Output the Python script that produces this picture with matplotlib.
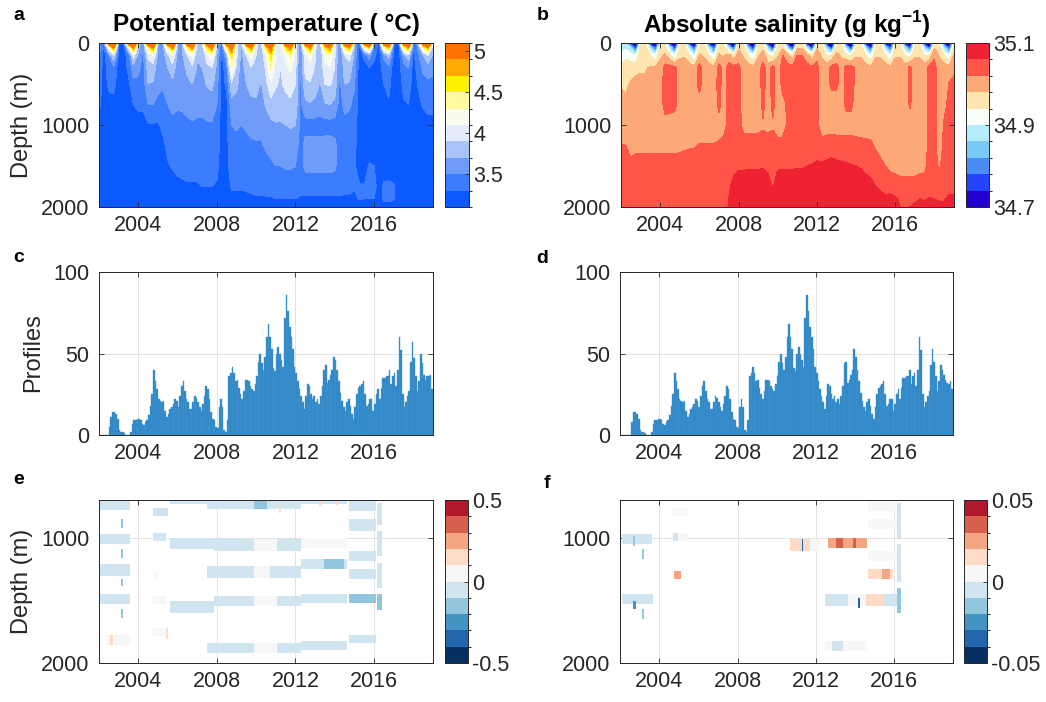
import numpy as np
import matplotlib
matplotlib.use('Agg')
import matplotlib.pyplot as plt
from matplotlib.colors import ListedColormap, BoundaryNorm
from matplotlib.cm import ScalarMappable

plt.rcParams['font.family'] = ['Liberation Sans', 'DejaVu Sans']
plt.rcParams['mathtext.fontset'] = 'custom'
plt.rcParams['mathtext.rm'] = 'Liberation Sans'
plt.rcParams['mathtext.bf'] = 'Liberation Sans:bold'

# ---------------- data ----------------
# quarterly time grid 2002.00 ... 2019.00 and depth levels (m)
times = np.arange(2002, 2019.001, 0.25)
depths = [0, 50, 150, 300, 500, 750, 1000, 1250, 1500, 1750, 1900, 2000]

# potential temperature profiles, one row per time step
theta_cols = [
    [3.6, 3.6, 3.55, 3.45, 3.4, 3.35, 3.2, 3.2, 3.2, 3.2, 3.2, 3.2],          # 2002.00
    [3.35, 3.25, 3.2, 3.2, 3.2, 3.2, 3.2, 3.2, 3.2, 3.2, 3.2, 3.2],
    [5.2, 4.2, 3.5, 3.4, 3.35, 3.22, 3.2, 3.2, 3.2, 3.2, 3.2, 3.2],
    [6.5, 5.0, 3.9, 3.45, 3.35, 3.25, 3.2, 3.2, 3.2, 3.2, 3.2, 3.2],
    [3.3, 3.25, 3.25, 3.22, 3.2, 3.2, 3.2, 3.2, 3.2, 3.2, 3.2, 3.2],          # 2003.00
    [3.3, 3.2, 3.2, 3.2, 3.2, 3.2, 3.2, 3.2, 3.2, 3.2, 3.2, 3.2],
    [5.2, 4.0, 3.4, 3.35, 3.25, 3.2, 3.2, 3.2, 3.2, 3.2, 3.2, 3.2],
    [6.5, 5.0, 4.0, 3.6, 3.45, 3.3, 3.2, 3.2, 3.2, 3.2, 3.2, 3.2],
    [3.9, 3.8, 3.65, 3.55, 3.45, 3.35, 3.2, 3.2, 3.2, 3.2, 3.2, 3.2],         # 2004.00
    [3.45, 3.45, 3.45, 3.42, 3.4, 3.35, 3.2, 3.2, 3.2, 3.2, 3.2, 3.2],
    [5.4, 4.5, 3.95, 3.8, 3.7, 3.5, 3.28, 3.2, 3.2, 3.2, 3.2, 3.2],
    [6.5, 5.0, 4.1, 3.8, 3.68, 3.5, 3.28, 3.2, 3.2, 3.2, 3.2, 3.2],
    [3.7, 3.7, 3.65, 3.6, 3.55, 3.45, 3.28, 3.2, 3.2, 3.2, 3.2, 3.2],         # 2005.00
    [3.6, 3.6, 3.58, 3.55, 3.52, 3.45, 3.35, 3.25, 3.2, 3.2, 3.2, 3.2],
    [5.4, 4.4, 3.85, 3.7, 3.6, 3.5, 3.42, 3.35, 3.28, 3.2, 3.2, 3.2],
    [6.5, 5.0, 4.1, 3.8, 3.65, 3.55, 3.45, 3.38, 3.32, 3.22, 3.2, 3.2],
    [3.65, 3.65, 3.62, 3.6, 3.57, 3.52, 3.45, 3.4, 3.35, 3.25, 3.2, 3.2],     # 2006.00
    [3.7, 3.7, 3.68, 3.62, 3.58, 3.52, 3.46, 3.4, 3.35, 3.27, 3.2, 3.2],
    [5.4, 4.5, 3.9, 3.75, 3.65, 3.55, 3.47, 3.42, 3.36, 3.28, 3.22, 3.2],
    [6.5, 5.0, 4.15, 3.85, 3.7, 3.57, 3.48, 3.42, 3.36, 3.28, 3.22, 3.2],
    [3.75, 3.75, 3.72, 3.68, 3.62, 3.55, 3.47, 3.42, 3.36, 3.28, 3.22, 3.2],  # 2007.00
    [3.8, 3.8, 3.75, 3.7, 3.63, 3.55, 3.47, 3.42, 3.36, 3.3, 3.22, 3.2],
    [5.4, 4.6, 4.0, 3.85, 3.72, 3.58, 3.48, 3.42, 3.37, 3.3, 3.22, 3.2],
    [6.5, 5.0, 4.25, 3.9, 3.75, 3.6, 3.48, 3.42, 3.37, 3.3, 3.22, 3.2],
    [3.8, 3.75, 3.7, 3.65, 3.58, 3.5, 3.44, 3.4, 3.35, 3.28, 3.22, 3.2],      # 2008.00
    [3.45, 3.35, 3.25, 3.2, 3.2, 3.2, 3.2, 3.2, 3.2, 3.2, 3.2, 3.2],
    [5.4, 4.5, 3.7, 3.45, 3.35, 3.25, 3.25, 3.25, 3.25, 3.22, 3.2, 3.2],
    [6.5, 5.1, 4.6, 4.3, 3.85, 3.62, 3.5, 3.43, 3.38, 3.32, 3.25, 3.2],
    [4.0, 4.0, 3.95, 3.85, 3.75, 3.62, 3.52, 3.45, 3.4, 3.32, 3.25, 3.2],     # 2009.00
    [3.65, 3.65, 3.63, 3.6, 3.58, 3.55, 3.5, 3.45, 3.4, 3.32, 3.25, 3.2],
    [5.4, 4.5, 3.9, 3.78, 3.7, 3.6, 3.52, 3.46, 3.4, 3.33, 3.26, 3.2],
    [6.5, 5.0, 4.2, 3.9, 3.78, 3.65, 3.55, 3.47, 3.42, 3.34, 3.27, 3.2],
    [3.95, 3.95, 3.9, 3.85, 3.78, 3.66, 3.56, 3.48, 3.43, 3.35, 3.28, 3.22],  # 2010.00
    [3.75, 3.75, 3.73, 3.7, 3.68, 3.62, 3.55, 3.48, 3.43, 3.35, 3.28, 3.22],
    [5.4, 4.6, 4.1, 3.95, 3.85, 3.72, 3.6, 3.52, 3.45, 3.37, 3.28, 3.22],
    [6.5, 5.1, 4.6, 4.35, 4.05, 3.82, 3.65, 3.55, 3.47, 3.38, 3.28, 3.22],
    [4.1, 4.1, 4.05, 4.0, 3.92, 3.82, 3.68, 3.58, 3.5, 3.4, 3.3, 3.22],       # 2011.00
    [3.95, 3.95, 3.93, 3.9, 3.87, 3.8, 3.68, 3.58, 3.5, 3.4, 3.3, 3.22],
    [5.4, 4.6, 4.15, 4.05, 3.95, 3.83, 3.7, 3.6, 3.52, 3.4, 3.3, 3.22],
    [6.5, 5.0, 4.35, 4.15, 4.0, 3.85, 3.72, 3.6, 3.52, 3.4, 3.3, 3.22],
    [4.05, 4.05, 4.0, 3.95, 3.9, 3.82, 3.7, 3.6, 3.5, 3.4, 3.3, 3.22],        # 2012.00
    [3.45, 3.45, 3.45, 3.45, 3.45, 3.45, 3.45, 3.42, 3.4, 3.35, 3.28, 3.22],
    [5.4, 4.5, 4.05, 3.98, 3.85, 3.65, 3.42, 3.56, 3.55, 3.38, 3.27, 3.22],
    [6.5, 5.0, 4.2, 4.02, 3.88, 3.68, 3.42, 3.56, 3.55, 3.38, 3.27, 3.22],
    [3.95, 3.95, 3.92, 3.88, 3.8, 3.65, 3.42, 3.56, 3.55, 3.38, 3.27, 3.22],  # 2013.00
    [3.7, 3.7, 3.7, 3.7, 3.68, 3.6, 3.42, 3.56, 3.55, 3.38, 3.27, 3.22],
    [5.4, 4.6, 4.15, 4.05, 3.9, 3.68, 3.42, 3.57, 3.56, 3.38, 3.27, 3.22],
    [6.5, 5.0, 4.3, 4.08, 3.92, 3.7, 3.42, 3.57, 3.56, 3.38, 3.27, 3.22],
    [3.95, 3.95, 3.93, 3.9, 3.82, 3.65, 3.42, 3.55, 3.54, 3.38, 3.27, 3.22],  # 2014.00
    [3.45, 3.45, 3.45, 3.45, 3.45, 3.42, 3.4, 3.4, 3.38, 3.35, 3.28, 3.22],
    [5.4, 4.5, 3.9, 3.8, 3.7, 3.55, 3.45, 3.42, 3.45, 3.36, 3.27, 3.22],
    [6.5, 4.9, 4.0, 3.8, 3.68, 3.52, 3.44, 3.4, 3.42, 3.35, 3.27, 3.22],
    [3.7, 3.7, 3.65, 3.58, 3.52, 3.45, 3.38, 3.35, 3.33, 3.32, 3.26, 3.22],   # 2015.00
    [3.25, 3.22, 3.2, 3.2, 3.2, 3.2, 3.2, 3.2, 3.2, 3.32, 3.31, 3.22],
    [5.3, 4.2, 3.35, 3.22, 3.2, 3.2, 3.2, 3.2, 3.2, 3.31, 3.3, 3.22],
    [6.5, 4.7, 3.6, 3.3, 3.22, 3.2, 3.2, 3.2, 3.32, 3.35, 3.3, 3.22],
    [3.5, 3.45, 3.35, 3.25, 3.2, 3.2, 3.2, 3.2, 3.3, 3.34, 3.3, 3.22],        # 2016.00
    [3.25, 3.2, 3.2, 3.2, 3.2, 3.2, 3.2, 3.2, 3.2, 3.25, 3.25, 3.2],
    [5.3, 4.3, 3.55, 3.4, 3.3, 3.25, 3.2, 3.2, 3.2, 3.33, 3.33, 3.22],
    [6.5, 4.8, 3.8, 3.45, 3.35, 3.28, 3.22, 3.2, 3.2, 3.34, 3.34, 3.22],
    [3.35, 3.3, 3.25, 3.2, 3.2, 3.2, 3.2, 3.2, 3.2, 3.32, 3.32, 3.22],        # 2017.00
    [3.25, 3.2, 3.2, 3.2, 3.2, 3.2, 3.2, 3.2, 3.2, 3.2, 3.2, 3.2],
    [5.3, 4.4, 3.6, 3.45, 3.35, 3.28, 3.22, 3.2, 3.2, 3.2, 3.2, 3.2],
    [6.5, 4.9, 3.85, 3.5, 3.4, 3.3, 3.22, 3.2, 3.2, 3.2, 3.2, 3.2],
    [3.3, 3.28, 3.25, 3.22, 3.2, 3.2, 3.2, 3.2, 3.2, 3.2, 3.2, 3.2],          # 2018.00
    [3.6, 3.55, 3.45, 3.38, 3.32, 3.25, 3.2, 3.2, 3.2, 3.2, 3.2, 3.2],
    [5.3, 4.4, 3.7, 3.55, 3.42, 3.32, 3.22, 3.2, 3.2, 3.2, 3.2, 3.2],
    [6.5, 4.9, 3.9, 3.6, 3.45, 3.35, 3.25, 3.2, 3.2, 3.2, 3.2, 3.2],
    [3.7, 3.7, 3.65, 3.55, 3.45, 3.35, 3.25, 3.2, 3.2, 3.2, 3.2, 3.2],        # 2019.00
]

# absolute salinity profiles, one row per time step
salt_cols = [
    [34.84, 34.87, 34.91, 34.95, 34.975, 35.0, 35.0, 35.022, 35.04, 35.045, 35.05, 35.05],   # 2002.00
    [34.86, 34.89, 34.93, 34.96, 34.97, 34.99, 35.0, 35.02, 35.035, 35.045, 35.05, 35.05],
    [34.7, 34.85, 34.92, 34.96, 34.985, 35.0, 35.0, 35.005, 35.03, 35.045, 35.05, 35.05],
    [34.55, 34.74, 34.9, 34.97, 34.99, 35.0, 35.0, 35.01, 35.035, 35.045, 35.05, 35.05],
    [34.955, 34.96, 34.97, 34.975, 34.99, 35.0, 35.0, 35.01, 35.035, 35.045, 35.05, 35.05],   # 2003.00
    [34.955, 34.96, 34.965, 34.975, 34.99, 35.0, 35.0, 35.01, 35.035, 35.045, 35.05, 35.05],
    [34.7, 34.85, 34.94, 34.985, 35.0, 35.0, 35.0, 35.01, 35.035, 35.045, 35.05, 35.05],
    [34.55, 34.74, 34.9, 34.985, 35.0, 35.0, 35.0, 35.01, 35.035, 35.045, 35.05, 35.05],
    [34.955, 34.96, 34.975, 34.99, 35.0, 35.0, 35.0, 35.01, 35.035, 35.045, 35.05, 35.05],   # 2004.00
    [34.955, 34.96, 34.985, 35.035, 35.04, 35.035, 35.005, 35.01, 35.035, 35.045, 35.05, 35.05],
    [34.7, 34.85, 34.95, 35.035, 35.04, 35.035, 35.0, 35.01, 35.035, 35.045, 35.05, 35.05],
    [34.55, 34.74, 34.9, 35.03, 35.035, 35.03, 35.0, 35.01, 35.035, 35.045, 35.05, 35.05],
    [34.955, 34.96, 34.975, 34.995, 35.0, 35.0, 35.0, 35.012, 35.035, 35.045, 35.05, 35.05],  # 2005.00
    [34.955, 34.96, 34.975, 35.0, 35.0, 35.0, 35.0, 35.015, 35.035, 35.045, 35.05, 35.05],
    [34.7, 34.85, 34.94, 35.0, 35.0, 35.0, 35.0, 35.017, 35.035, 35.045, 35.05, 35.05],
    [34.55, 34.74, 34.9, 34.99, 35.0, 35.0, 35.0, 35.018, 35.035, 35.045, 35.05, 35.05],
    [34.955, 34.96, 34.985, 35.035, 35.035, 35.0, 35.0, 35.022, 35.04, 35.045, 35.05, 35.05], # 2006.00
    [34.955, 34.96, 34.975, 35.0, 35.0, 35.0, 35.0, 35.022, 35.04, 35.045, 35.05, 35.05],
    [34.7, 34.85, 34.94, 35.0, 35.0, 35.0, 35.0, 35.022, 35.04, 35.045, 35.05, 35.05],
    [34.55, 34.74, 34.9, 34.99, 35.0, 35.0, 35.0, 35.022, 35.04, 35.045, 35.05, 35.05],
    [34.955, 34.96, 34.985, 35.035, 35.035, 35.03, 35.005, 35.025, 35.04, 35.045, 35.05, 35.05],  # 2007.00
    [34.955, 34.96, 34.975, 35.0, 35.0, 35.0, 35.01, 35.03, 35.045, 35.05, 35.05, 35.05],
    [34.7, 34.85, 35.0, 35.035, 35.035, 35.035, 35.03, 35.035, 35.045, 35.055, 35.06, 35.062],
    [34.55, 34.74, 34.95, 35.035, 35.035, 35.035, 35.035, 35.04, 35.05, 35.07, 35.075, 35.075],
    [34.96, 34.97, 35.0, 35.03, 35.035, 35.035, 35.035, 35.04, 35.056, 35.075, 35.08, 35.08],   # 2008.00
    [34.955, 34.96, 34.975, 35.0, 35.0, 35.0, 35.01, 35.035, 35.056, 35.075, 35.08, 35.08],
    [34.68, 34.84, 34.94, 35.0, 35.0, 35.0, 35.01, 35.035, 35.057, 35.075, 35.08, 35.08],
    [34.5, 34.72, 34.9, 34.99, 35.0, 35.0, 35.01, 35.035, 35.057, 35.075, 35.08, 35.08],
    [34.955, 34.96, 34.975, 35.0, 35.0, 35.0, 35.01, 35.035, 35.057, 35.075, 35.08, 35.08],     # 2009.00
    [34.955, 34.965, 35.0, 35.035, 35.035, 35.03, 35.015, 35.035, 35.058, 35.075, 35.08, 35.08],
    [34.68, 34.84, 34.95, 35.0, 35.0, 35.0, 35.01, 35.035, 35.055, 35.07, 35.08, 35.08],
    [34.5, 34.72, 34.93, 35.035, 35.035, 35.03, 35.015, 35.035, 35.055, 35.058, 35.075, 35.08],
    [34.955, 34.96, 34.975, 35.0, 35.0, 35.0, 35.005, 35.03, 35.056, 35.075, 35.08, 35.08],     # 2010.00
    [34.955, 34.97, 35.02, 35.035, 35.03, 35.01, 35.005, 35.03, 35.057, 35.075, 35.08, 35.08],
    [34.68, 34.85, 35.0, 35.03, 35.03, 35.025, 35.025, 35.035, 35.057, 35.075, 35.08, 35.08],
    [34.5, 34.72, 34.95, 35.035, 35.035, 35.03, 35.03, 35.04, 35.057, 35.075, 35.08, 35.08],
    [34.96, 34.97, 35.02, 35.035, 35.035, 35.03, 35.03, 35.04, 35.058, 35.075, 35.08, 35.08],  # 2011.00
    [34.96, 34.97, 35.02, 35.035, 35.035, 35.03, 35.03, 35.04, 35.058, 35.075, 35.08, 35.08],
    [34.68, 34.85, 35.0, 35.03, 35.035, 35.03, 35.03, 35.04, 35.06, 35.075, 35.08, 35.08],
    [34.5, 34.72, 34.95, 35.03, 35.035, 35.03, 35.03, 35.04, 35.062, 35.075, 35.08, 35.08],
    [34.96, 34.97, 35.01, 35.03, 35.035, 35.03, 35.03, 35.045, 35.065, 35.075, 35.08, 35.08],   # 2012.00
    [34.955, 34.96, 34.975, 35.0, 35.0, 35.0, 35.0, 35.035, 35.065, 35.075, 35.08, 35.08],
    [34.68, 34.84, 34.94, 35.0, 35.0, 35.0, 35.0, 35.04, 35.068, 35.075, 35.08, 35.08],
    [34.5, 34.72, 34.95, 35.035, 35.03, 35.0, 35.0, 35.045, 35.07, 35.075, 35.08, 35.08],
    [34.955, 34.96, 34.99, 35.035, 35.03, 35.0, 35.0, 35.04, 35.068, 35.075, 35.08, 35.08],     # 2013.00
    [34.955, 34.96, 34.975, 35.0, 35.0, 35.0, 35.0, 35.04, 35.066, 35.075, 35.08, 35.08],
    [34.68, 34.85, 34.95, 35.035, 35.035, 35.03, 35.0, 35.04, 35.064, 35.075, 35.08, 35.08],
    [34.5, 34.72, 34.93, 35.035, 35.035, 35.03, 35.0, 35.038, 35.062, 35.075, 35.08, 35.08],
    [34.955, 34.96, 34.975, 35.01, 35.01, 35.0, 35.0, 35.035, 35.06, 35.075, 35.08, 35.08],     # 2014.00
    [34.955, 34.96, 34.975, 35.0, 35.0, 35.0, 35.0, 35.032, 35.058, 35.072, 35.08, 35.08],
    [34.68, 34.85, 34.94, 35.0, 35.0, 35.0, 35.0, 35.03, 35.055, 35.068, 35.08, 35.08],
    [34.5, 34.72, 34.9, 34.99, 35.0, 35.0, 35.0, 35.028, 35.052, 35.066, 35.075, 35.08],
    [34.955, 34.96, 34.975, 35.0, 35.0, 35.0, 35.0, 35.015, 35.04, 35.06, 35.07, 35.075],       # 2015.00
    [34.955, 34.96, 34.975, 35.0, 35.0, 35.0, 35.0, 35.005, 35.03, 35.055, 35.068, 35.075],
    [34.7, 34.85, 34.94, 35.0, 35.0, 35.0, 35.0, 35.0, 35.02, 35.05, 35.065, 35.07],
    [34.55, 34.74, 34.9, 34.99, 35.0, 35.0, 35.0, 35.0, 35.01, 35.045, 35.07, 35.07],
    [34.955, 34.96, 34.975, 35.0, 35.0, 35.0, 35.0, 35.0, 35.008, 35.04, 35.065, 35.07],        # 2016.00
    [34.955, 34.96, 34.975, 35.0, 35.0, 35.0, 35.0, 35.0, 35.005, 35.035, 35.055, 35.06],
    [34.7, 34.85, 34.94, 35.0, 35.0, 35.0, 35.0, 35.0, 35.005, 35.035, 35.05, 35.058],
    [34.55, 34.74, 34.92, 35.032, 35.032, 35.025, 35.0, 35.0, 35.005, 35.035, 35.05, 35.06],
    [34.955, 34.96, 34.975, 35.0, 35.0, 35.0, 35.0, 35.0, 35.005, 35.035, 35.055, 35.065],     # 2017.00
    [34.955, 34.96, 34.975, 35.0, 35.0, 35.0, 35.0, 35.0, 35.008, 35.04, 35.06, 35.068],
    [34.7, 34.85, 34.94, 35.0, 35.0, 35.0, 35.0, 35.0, 35.01, 35.04, 35.058, 35.065],
    [34.55, 34.74, 34.95, 35.035, 35.035, 35.035, 35.035, 35.035, 35.04, 35.045, 35.062, 35.07],
    [34.965, 34.975, 35.015, 35.03, 35.03, 35.03, 35.03, 35.03, 35.035, 35.045, 35.06, 35.068], # 2018.00
    [34.955, 34.96, 34.975, 35.0, 35.0, 35.0, 35.0, 35.0, 35.015, 35.04, 35.058, 35.065],
    [34.7, 34.85, 34.94, 35.0, 35.0, 35.01, 35.025, 35.03, 35.035, 35.045, 35.058, 35.065],
    [34.55, 34.74, 34.9, 35.0, 35.022, 35.03, 35.035, 35.035, 35.04, 35.05, 35.065, 35.07],
    [34.955, 34.965, 34.985, 35.015, 35.025, 35.03, 35.035, 35.035, 35.04, 35.05, 35.065, 35.07], # 2019.00
]

# monthly profile counts from Jan 2002 (panels c and d)
profiles_theta = [
    0, 0, 0, 0, 0, 0, 5, 11, 14, 14, 13, 10, 3, 2, 2, 1, 0, 0, 0, 2, 7, 9, 9, 10,
    10, 9, 7, 6, 8, 9, 12, 18, 25, 40, 33, 28, 22, 21, 20, 21, 15, 11, 13, 16, 17, 19, 22, 21,
    17, 24, 30, 33, 27, 22, 20, 16, 16, 20, 24, 23, 20, 17, 15, 19, 24, 30, 28, 22, 14, 10, 9, 5,
    4, 17, 22, 17, 3, 2, 9, 36, 38, 42, 38, 33, 34, 29, 25, 22, 27, 34, 34, 33, 30, 28, 27, 31,
    36, 45, 50, 44, 40, 48, 60, 68, 60, 53, 41, 39, 50, 54, 50, 46, 42, 72, 86, 76, 66, 60, 53, 42,
    38, 33, 28, 24, 20, 16, 24, 31, 30, 25, 22, 24, 20, 22, 19, 24, 30, 40, 43, 32, 34, 37, 40, 48,
    46, 40, 33, 26, 21, 17, 15, 20, 22, 18, 13, 10, 17, 25, 29, 30, 31, 33, 25, 18, 19, 22, 22, 15,
    19, 25, 28, 22, 29, 35, 35, 36, 36, 40, 31, 36, 38, 30, 40, 60, 52, 25, 17, 20, 24, 27, 45, 57,
    47, 36, 27, 33, 50, 44, 37, 34, 36, 36, 37, 28, 20,
]
profiles_salt = [
    0, 0, 0, 0, 0, 0, 0, 8, 14, 14, 13, 10, 3, 2, 2, 1, 0, 0, 0, 2, 7, 9, 9, 10,
    10, 9, 7, 6, 8, 9, 12, 18, 25, 38, 33, 28, 22, 21, 20, 21, 15, 11, 13, 16, 17, 19, 22, 21,
    17, 24, 30, 33, 27, 22, 20, 16, 16, 20, 24, 23, 20, 17, 15, 19, 24, 30, 28, 22, 14, 10, 9, 5,
    4, 17, 22, 17, 3, 2, 9, 36, 38, 42, 38, 33, 34, 29, 25, 22, 27, 34, 34, 33, 30, 28, 27, 31,
    36, 45, 50, 44, 40, 48, 60, 68, 60, 53, 41, 39, 50, 54, 50, 46, 42, 72, 86, 76, 66, 60, 53, 42,
    38, 33, 28, 24, 20, 16, 24, 31, 30, 25, 22, 24, 20, 22, 19, 24, 30, 44, 45, 32, 34, 37, 40, 53,
    48, 40, 33, 26, 21, 17, 15, 20, 22, 18, 13, 10, 17, 25, 29, 30, 31, 33, 25, 18, 19, 22, 22, 15,
    19, 25, 28, 22, 29, 35, 35, 36, 36, 40, 31, 36, 38, 30, 40, 60, 52, 25, 17, 20, 24, 27, 43, 53,
    45, 36, 27, 33, 43, 40, 37, 34, 32, 31, 33, 28, 20,
]

# anomaly segments (t_start, t_end, depth_top, depth_bottom, value), panels e and f
theta_anom = [
    (2002.05, 2003.58, 707, 779, -0.05), (2002.05, 2003.58, 973, 1053, -0.05),
    (2002.05, 2003.58, 1213, 1307, -0.05), (2002.05, 2003.58, 1453, 1533, -0.05),
    (2002.40, 2003.58, 1773, 1853, 0.05), (2002.56, 2002.70, 1780, 1860, 0.15),
    (2003.10, 2003.22, 853, 920, -0.15), (2003.10, 2003.22, 1093, 1160, -0.15),
    (2003.10, 2003.22, 1333, 1387, -0.15), (2003.10, 2003.22, 1573, 1640, -0.15),
    (2004.74, 2005.50, 760, 827, -0.05), (2004.74, 2005.40, 960, 1027, -0.05),
    (2004.74, 2005.02, 1267, 1333, 0.05), (2004.74, 2005.40, 1467, 1533, 0.05),
    (2004.74, 2005.40, 1720, 1787, 0.05), (2005.42, 2005.52, 1720, 1810, 0.15),
    (2005.62, 2007.83, 693, 733, -0.05), (2005.62, 2007.83, 1000, 1093, -0.05),
    (2005.62, 2007.83, 1507, 1600, -0.05),
    (2007.49, 2009.87, 707, 773, -0.05), (2009.87, 2010.55, 707, 773, -0.15),
    (2010.55, 2012.26, 707, 773, -0.05), (2011.15, 2011.27, 733, 800, 0.15),
    (2007.83, 2009.87, 1013, 1107, -0.05), (2009.87, 2011.06, 1013, 1107, 0.05),
    (2011.06, 2012.26, 1013, 1107, -0.05),
    (2007.49, 2009.87, 1227, 1320, -0.05), (2009.87, 2010.72, 1227, 1320, 0.05),
    (2010.72, 2012.26, 1227, 1320, -0.05),
    (2007.83, 2009.87, 1467, 1547, -0.05), (2009.87, 2011.06, 1467, 1547, 0.05),
    (2011.06, 2012.26, 1467, 1547, -0.05),
    (2007.49, 2009.87, 1840, 1920, -0.05), (2009.87, 2011.06, 1840, 1920, 0.05),
    (2011.06, 2012.26, 1840, 1920, -0.05),
    (2012.26, 2014.64, 693, 733, -0.05), (2013.20, 2013.36, 693, 745, 0.15),
    (2014.05, 2014.15, 700, 740, 0.15),
    (2012.26, 2014.64, 1000, 1080, 0.05),
    (2012.26, 2013.45, 1173, 1253, -0.05), (2013.45, 2014.47, 1173, 1253, -0.15),
    (2014.47, 2014.64, 1173, 1253, -0.05),
    (2012.26, 2014.64, 1453, 1520, -0.05), (2012.26, 2014.64, 1827, 1893, -0.05),
    (2014.72, 2016.08, 707, 787, -0.05), (2014.72, 2016.08, 853, 947, -0.05),
    (2014.72, 2016.08, 1107, 1187, -0.05), (2014.72, 2016.08, 1253, 1333, -0.05),
    (2014.72, 2016.08, 1453, 1520, -0.15), (2014.72, 2016.08, 1773, 1840, -0.05),
    (2016.17, 2016.42, 720, 900, -0.05), (2016.17, 2016.42, 950, 1150, -0.05),
    (2016.17, 2016.42, 1200, 1400, -0.05), (2016.17, 2016.42, 1450, 1580, -0.15),
]
salt_anom = [
    (2002.09, 2003.62, 973, 1053, -0.005), (2002.68, 2002.77, 990, 1070, -0.015),
    (2003.10, 2003.24, 1093, 1173, -0.015),
    (2002.09, 2003.70, 1453, 1533, -0.005), (2002.68, 2002.82, 1507, 1573, -0.025),
    (2003.10, 2003.24, 1573, 1653, -0.015),
    (2004.72, 2005.49, 760, 827, 0.005),
    (2004.72, 2004.98, 960, 1027, -0.005), (2004.98, 2005.49, 960, 1027, 0.005),
    (2004.77, 2005.10, 1267, 1333, 0.025),
    (2010.67, 2011.70, 1013, 1107, 0.015), (2011.27, 2011.35, 1013, 1107, -0.035),
    (2011.70, 2012.20, 1013, 1107, 0.005),
    (2012.63, 2014.59, 1000, 1080, 0.025), (2013.05, 2013.39, 1000, 1080, 0.035),
    (2013.90, 2014.07, 1000, 1080, 0.035),
    (2014.67, 2016.12, 707, 787, 0.005), (2014.67, 2016.12, 853, 933, 0.005),
    (2014.67, 2016.12, 1107, 1187, 0.005),
    (2014.67, 2015.35, 1253, 1333, 0.015), (2015.35, 2015.78, 1253, 1333, 0.025),
    (2015.78, 2015.95, 1253, 1333, 0.015),
    (2012.46, 2013.65, 1453, 1547, -0.005), (2013.65, 2014.58, 1453, 1547, 0.005),
    (2014.58, 2015.43, 1453, 1547, 0.015), (2015.43, 2016.29, 1453, 1547, -0.005),
    (2014.16, 2014.24, 1480, 1560, -0.035),
    (2012.46, 2012.80, 1827, 1907, 0.005), (2012.80, 2013.40, 1827, 1907, -0.005),
    (2013.40, 2014.60, 1827, 1907, 0.005),
    (2016.12, 2016.37, 720, 1000, -0.005), (2016.12, 2016.37, 1050, 1350, -0.005),
    (2016.12, 2016.37, 1400, 1600, -0.015),
]

# ---------------- colours ----------------
theta_levels = [3.1, 3.3, 3.5, 3.7, 3.9, 4.1, 4.3, 4.5, 4.7, 4.9, 5.1]
theta_colors = ['#0a5aff', '#3c7dff', '#6e9cf8', '#a8c3f8', '#e5edfd',
                '#fafcee', '#fffaa0', '#fff200', '#ffaa00', '#ff7200']
salt_levels = [34.70, 34.74, 34.78, 34.82, 34.86, 34.90, 34.94, 34.98, 35.02, 35.06, 35.10]
salt_colors = ['#2200d0', '#2244ff', '#4a8cf5', '#79c8f5', '#b5eefa',
               '#f7fff8', '#ffe6b0', '#fca877', '#ff5548', '#ee2233']
anom_colors = ['#053061', '#2166ac', '#4393c3', '#92c5de', '#d1e5f0',
               '#f7f7f7', '#fddbc7', '#f4a582', '#d6604d', '#b2182b']

W, H = 1046, 702
fig = plt.figure(figsize=(W / 100, H / 100), dpi=100)
TXT = '#262626'


def px_axes(l, t, r, b):
    return fig.add_axes([l / W, 1 - b / H, (r - l) / W, (b - t) / H])


def style(ax, grid=True):
    ax.set_xlim(2002, 2019)
    ax.set_xticks([2004, 2008, 2012, 2016])
    ax.tick_params(direction='in', top=True, right=True, length=3.5, width=0.6,
                   colors=TXT, labelsize=15.5)
    ax.tick_params(axis='x', pad=6)
    ax.tick_params(axis='y', pad=7)
    for s in ax.spines.values():
        s.set_color(TXT)
        s.set_linewidth(0.7)
    if grid:
        ax.set_axisbelow(True)
        ax.grid(True, color='#dddddd', linewidth=0.6)


def colorbar(cax, levels, colors, ticks, labels):
    cmap = ListedColormap(colors)
    sm = ScalarMappable(norm=BoundaryNorm(levels, cmap.N), cmap=cmap)
    cb = fig.colorbar(sm, cax=cax)
    cb.set_ticks(ticks)
    cb.set_ticklabels(labels)
    cb.ax.tick_params(direction='in', length=3, width=0.6, colors=TXT,
                      labelsize=15.5, pad=3)
    cb.outline.set_edgecolor(TXT)
    cb.outline.set_linewidth(0.7)


def field(ax, cols, levels, colors):
    cmap = ListedColormap(colors).with_extremes(under=colors[0], over=colors[-1])
    z = np.array(cols).T
    ax.contourf(times, depths, z, levels=levels, cmap=cmap, extend='both')
    ax.set_ylim(2000, 0)
    ax.set_yticks([0, 1000, 2000])


def segments(ax, segs, vmax):
    lev = np.linspace(-vmax, vmax, 11)
    cmap = ListedColormap(anom_colors)
    norm = BoundaryNorm(lev, cmap.N)
    for t0, t1, d0, d1, v in segs:
        ax.broken_barh([(t0, t1 - t0)], (d0, d1 - d0), facecolors=cmap(norm(v)),
                       edgecolor='none', zorder=2)
    ax.set_ylim(2000, 700)
    ax.set_yticks([1000, 2000])
    return lev


# panel a
ax_a = px_axes(99, 43, 433, 207)
field(ax_a, theta_cols, theta_levels, theta_colors)
style(ax_a, grid=False)
colorbar(px_axes(445, 43, 469, 207), theta_levels, theta_colors,
         [3.5, 4, 4.5, 5], ['3.5', '4', '4.5', '5'])

# panel b
ax_b = px_axes(621, 43, 954, 207)
field(ax_b, salt_cols, salt_levels, salt_colors)
style(ax_b, grid=False)
colorbar(px_axes(966, 43, 989, 207), salt_levels, salt_colors,
         [34.7, 34.9, 35.1], ['34.7', '34.9', '35.1'])

# panels c, d
months = 2002 + np.arange(len(profiles_theta)) / 12
for rect, counts in [((99, 272, 433, 435), profiles_theta),
                     ((620, 272, 953, 435), profiles_salt)]:
    ax = px_axes(*rect)
    ax.bar(months, counts, width=1 / 12, align='edge', color='#2b86c6',
           edgecolor='#4a98d2', linewidth=0.3)
    style(ax)
    ax.set_ylim(0, 100)
    ax.set_yticks([0, 50, 100])

# panels e, f
ax_e = px_axes(99, 500, 433, 663)
lev_e = segments(ax_e, theta_anom, 0.5)
style(ax_e)
colorbar(px_axes(445, 500, 468, 663), lev_e, anom_colors, [-0.5, 0, 0.5], ['-0.5', '0', '0.5'])

ax_f = px_axes(620, 500, 953, 663)
lev_f = segments(ax_f, salt_anom, 0.05)
style(ax_f)
colorbar(px_axes(964, 500, 987, 663), lev_f, anom_colors, [-0.05, 0, 0.05], ['-0.05', '0', '0.05'])

# labels and titles
fig.text(266 / W, 1 - 25 / H, 'Potential temperature ( \u00b0C)', ha='center', va='center',
         fontsize=17.5, fontweight='bold')
fig.text(787 / W, 1 - 25 / H, r'Absolute salinity (g kg$^{\mathbf{-1}}$)', ha='center',
         va='center', fontsize=17.5, fontweight='bold')
for x, y, s in [(13, 16, 'a'), (537, 15, 'b'), (13, 258, 'c'), (536, 259, 'd'),
                (13, 480, 'e'), (544, 484, 'f')]:
    fig.text(x / W, 1 - y / H, s, ha='left', va='center', fontsize=14, fontweight='bold')
for x, y, s in [(22, 125, 'Depth (m)'), (33, 353, 'Profiles'), (22, 581, 'Depth (m)')]:
    fig.text(x / W, 1 - y / H, s, ha='center', va='center', rotation=90,
             fontsize=17, color=TXT)

fig.savefig('out.png', dpi=100)
